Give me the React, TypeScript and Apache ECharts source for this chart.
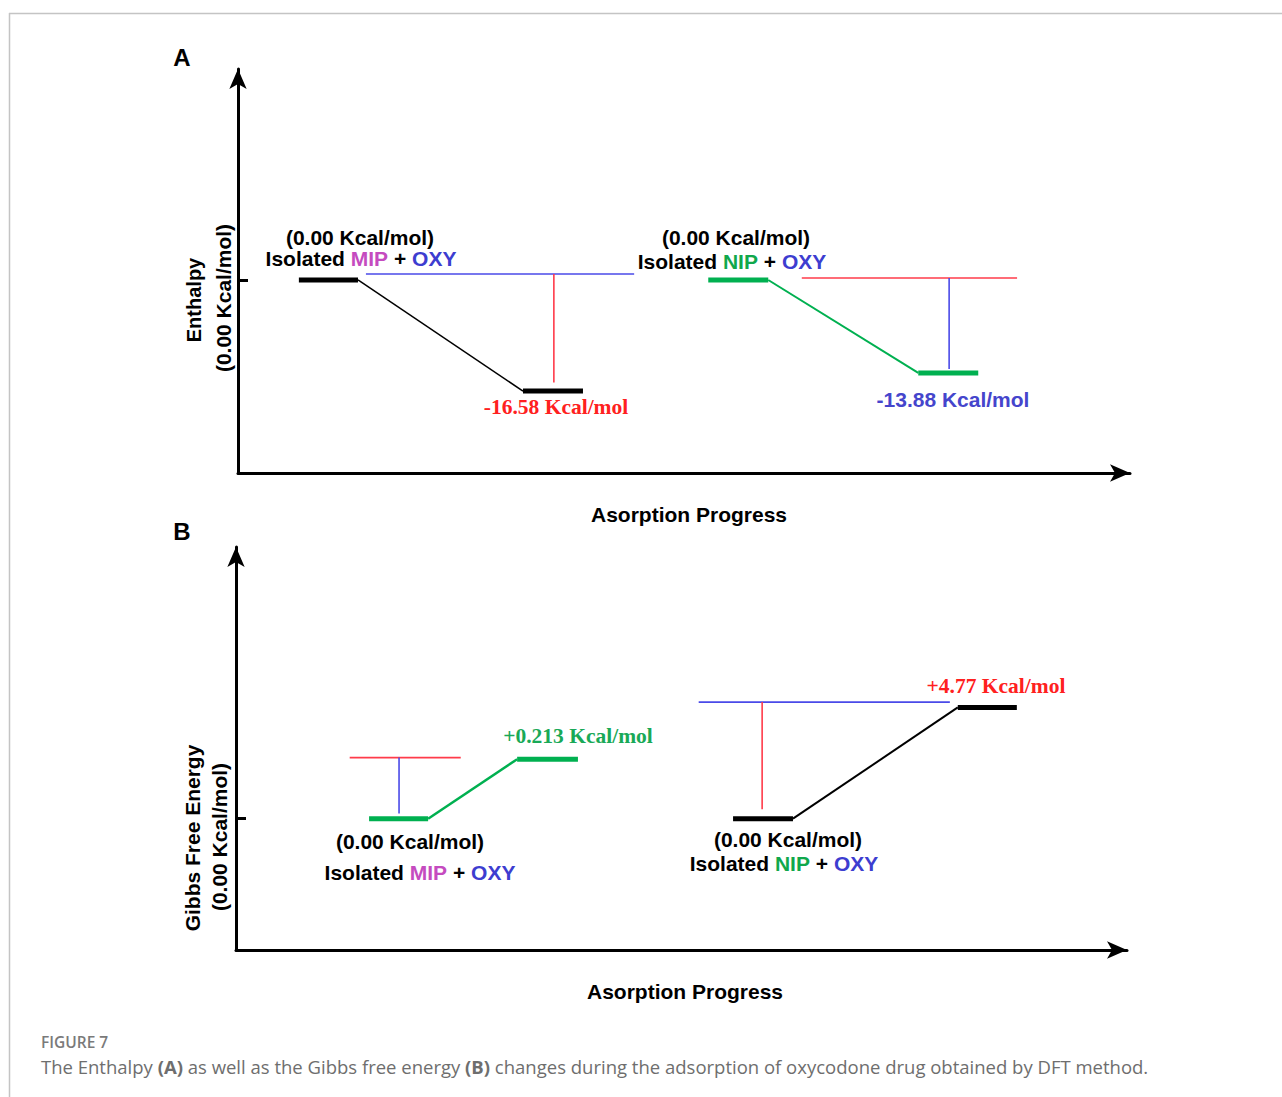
import React, { useEffect, useRef } from "react";
import * as echarts from "echarts";

// ---------------- Panel A : Enthalpy (kcal/mol) ----------------
const enthalpyMIP = [0, -16.58];
const enthalpyNIP = [0, -13.88];
// adsorption-progress positions: [reactant start, reactant end, product start, product end]
const progA_MIP = [6.9, 13.6, 32.3, 39.1];
const progA_NIP = [53.3, 60.1, 77.1, 83.9];
// guide lines of panel A: horizontal [start, end] + level, vertical x + bottom level
const guideA_MIP_x = [14.5, 44.9];
const guideA_MIP_level = 0.9;
const dropA_MIP = [35.8, -15.3];
const guideA_NIP_x = [63.9, 88.3];
const guideA_NIP_level = 0.3;
const dropA_NIP = [80.6, -13.3];

// ---------------- Panel B : Gibbs free energy ----------------
const gibbsMIP = [0, 0.213];
const gibbsNIP = [0, 4.77];
// levels as drawn in the (not-to-scale) diagram
const gibbsDrawnMIP = [0, 2.55];
const gibbsDrawnNIP = [0, 4.77];
const progB_MIP = [15.1, 21.8, 31.9, 38.8];
const progB_NIP = [56.4, 63.2, 81.9, 88.6];
const guideB_MIP_x = [12.9, 25.5];
const guideB_MIP_level = 2.62;
const dropB_MIP = [18.5, 0.22];
const guideB_NIP_x = [52.5, 81.0];
const guideB_NIP_level = 5.0;
const dropB_NIP = [59.7, 0.4];

const axisTitleX = "Asorption Progress";
const axisTitleA = ["Enthalpy", "(0.00 Kcal/mol)"];
const axisTitleB = ["Gibbs Free Energy", "(0.00 Kcal/mol)"];

const C_BLACK = "#000000";
const C_GREEN = "#00b050";
const C_RED = "#ff3b4a";
const C_BLUE = "#4a4ae8";
const C_MIP = "#c54bbf";
const C_OXY = "#3d3dd0";
const C_NIP = "#10a84c";
const T_RED = "#ff2020";
const T_GREEN = "#19a957";
const T_BLUE = "#4545cc";

const SANS = "'Liberation Sans', Arial, sans-serif";
const SERIF = "'Liberation Serif', 'Times New Roman', serif";
const CAP = "'Open Sans', sans-serif";

function seg(g: number, pts: number[][], color: string, width: number, z = 3) {
  return {
    type: "line",
    xAxisIndex: g,
    yAxisIndex: g,
    data: pts,
    showSymbol: false,
    symbol: "none",
    silent: true,
    z,
    lineStyle: { color, width, cap: "butt" },
  };
}

function system(
  g: number,
  prog: number[],
  levels: number[],
  color: string,
  connW: number,
  guideX: number[],
  guideLevel: number,
  guideColor: string,
  drop: number[],
  dropTop: number,
  dropColor: string
) {
  return [
    seg(g, [[guideX[0], guideLevel], [guideX[1], guideLevel]], guideColor, 1.6, 2),
    seg(g, [[drop[0], dropTop], [drop[0], drop[1]]], dropColor, 1.6, 2),
    seg(g, [[prog[1], levels[0]], [prog[2], levels[1]]], color, connW, 3),
    seg(g, [[prog[0], levels[0]], [prog[1], levels[0]]], color, 5, 4),
    seg(g, [[prog[2], levels[1]], [prog[3], levels[1]]], color, 5, 4),
  ];
}

function fmt(v: number) {
  return (v > 0 ? "+" : "") + v.toString() + " Kcal/mol";
}

function labelText(x: number, y: number, text: string, fill: string, family: string, size = 21, rich?: any) {
  return {
    type: "text",
    x,
    y,
    silent: true,
    style: {
      text,
      fill,
      fontSize: size,
      fontWeight: "bold",
      fontFamily: family,
      align: "center",
      verticalAlign: "middle",
      rich,
    },
  };
}

function isoRich(hostColor: string) {
  return {
    h: { fill: hostColor, fontSize: 21, fontWeight: "bold", fontFamily: SANS },
    o: { fill: C_OXY, fontSize: 21, fontWeight: "bold", fontFamily: SANS },
    k: { fill: C_BLACK, fontSize: 21, fontWeight: "bold", fontFamily: SANS },
  };
}

function axisPair(min: number, max: number) {
  return {
    x: {
      type: "value",
      min: 0,
      max: 101.1,
      axisLine: {
        show: true,
        onZero: false,
        symbol: ["none", "arrow"],
        symbolSize: [13, 20],
        lineStyle: { color: C_BLACK, width: 3 },
      },
      axisTick: { show: false },
      axisLabel: { show: false },
      splitLine: { show: false },
    },
    y: {
      type: "value",
      min,
      max,
      axisLine: {
        show: true,
        onZero: false,
        symbol: ["none", "arrow"],
        symbolSize: [13, 20],
        lineStyle: { color: C_BLACK, width: 3 },
      },
      axisTick: {
        show: true,
        inside: true,
        length: 10,
        customValues: [0],
        lineStyle: { color: C_BLACK, width: 3 },
      },
      axisLabel: { show: false },
      splitLine: { show: false },
    },
  };
}

export default function App() {
  const ref = useRef<HTMLDivElement>(null);
  useEffect(() => {
    if (!ref.current) return;
    const chart = echarts.init(ref.current, undefined, { renderer: "svg" });
    const A = axisPair(-28.81, 31.49);
    const B = axisPair(-5.63, 11.65);

    const series = [
      ...system(0, progA_MIP, enthalpyMIP, C_BLACK, 1.5, guideA_MIP_x, guideA_MIP_level, C_BLUE, dropA_MIP, guideA_MIP_level, C_RED),
      ...system(0, progA_NIP, enthalpyNIP, C_GREEN, 2, guideA_NIP_x, guideA_NIP_level, C_RED, dropA_NIP, guideA_NIP_level, C_BLUE),
      ...system(1, progB_MIP, gibbsDrawnMIP, C_GREEN, 2.5, guideB_MIP_x, guideB_MIP_level, C_RED, dropB_MIP, guideB_MIP_level, C_BLUE),
      ...system(1, progB_NIP, gibbsDrawnNIP, C_BLACK, 2, guideB_NIP_x, guideB_NIP_level, C_BLUE, dropB_NIP, guideB_NIP_level, C_RED),
    ];

    const graphic: any[] = [
      // frame
      { type: "line", silent: true, shape: { x1: 9.5, y1: 13, x2: 9.5, y2: 1097 }, style: { stroke: "#c4c4c4", lineWidth: 1.5 } },
      { type: "line", silent: true, shape: { x1: 9, y1: 13.5, x2: 1282, y2: 13.5 }, style: { stroke: "#c4c4c4", lineWidth: 1.5 } },
      // panel letters
      labelText(182, 57, "A", C_BLACK, SANS, 24),
      labelText(182, 531, "B", C_BLACK, SANS, 24),
      // y axis titles
      { ...labelText(194, 300, axisTitleA[0], C_BLACK, SANS, 20), rotation: Math.PI / 2 },
      { ...labelText(223, 298, axisTitleA[1], C_BLACK, SANS, 21), rotation: Math.PI / 2 },
      { ...labelText(192, 838, axisTitleB[0], C_BLACK, SANS, 21), rotation: Math.PI / 2 },
      { ...labelText(219, 837, axisTitleB[1], C_BLACK, SANS, 21), rotation: Math.PI / 2 },
      // x axis titles
      labelText(689, 514, axisTitleX, C_BLACK, SANS, 21),
      labelText(685, 991, axisTitleX, C_BLACK, SANS, 21),
      // panel A labels
      labelText(360, 237, "(0.00 Kcal/mol)", C_BLACK, SANS, 21),
      labelText(361, 258, "{k|Isolated }{h|MIP}{k| + }{o|OXY}", C_BLACK, SANS, 21, isoRich(C_MIP)),
      labelText(736, 237, "(0.00 Kcal/mol)", C_BLACK, SANS, 21),
      labelText(732, 261, "{k|Isolated }{h|NIP}{k| + }{o|OXY}", C_BLACK, SANS, 21, isoRich(C_NIP)),
      labelText(556, 407, fmt(enthalpyMIP[1]), T_RED, SERIF, 21.5),
      labelText(953, 399, fmt(enthalpyNIP[1]), T_BLUE, SANS, 21),
      // panel B labels
      labelText(578, 736, fmt(gibbsMIP[1]), T_GREEN, SERIF, 21.5),
      labelText(410, 841, "(0.00 Kcal/mol)", C_BLACK, SANS, 21),
      labelText(420, 872, "{k|Isolated }{h|MIP}{k| + }{o|OXY}", C_BLACK, SANS, 21, isoRich(C_MIP)),
      labelText(996, 686, fmt(gibbsNIP[1]), T_RED, SERIF, 21.5),
      labelText(788, 839, "(0.00 Kcal/mol)", C_BLACK, SANS, 21),
      labelText(784, 863, "{k|Isolated }{h|NIP}{k| + }{o|OXY}", C_BLACK, SANS, 21, isoRich(C_NIP)),
      // caption
      {
        type: "text",
        x: 41,
        y: 1042,
        silent: true,
        style: { text: "FIGURE 7", fill: "#7a7a7a", fontSize: 15.5, fontWeight: 600, fontFamily: CAP, verticalAlign: "middle" },
      },
      {
        type: "text",
        x: 41,
        y: 1066,
        silent: true,
        style: {
          text: "The Enthalpy {b|(A)} as well as the Gibbs free energy {b|(B)} changes during the adsorption of oxycodone drug obtained by DFT method.",
          fill: "#6e6e6e",
          fontSize: 18.5,
          fontFamily: CAP,
          verticalAlign: "middle",
          rich: {
            b: { fill: "#6e6e6e", fontSize: 18.5, fontWeight: "bold", fontFamily: CAP },
          },
        },
      },
    ];

    chart.setOption({
      animation: false,
      backgroundColor: "#ffffff",
      grid: [
        { left: 238, top: 69, width: 892, height: 404 },
        { left: 236, top: 547, width: 891, height: 403 },
      ],
      xAxis: [{ ...A.x, gridIndex: 0 }, { ...B.x, gridIndex: 1 }],
      yAxis: [{ ...A.y, gridIndex: 0 }, { ...B.y, gridIndex: 1 }],
      series,
      graphic,
    });
    return () => chart.dispose();
  }, []);
  return (
    <div
      ref={ref}
      style={{ position: "absolute", left: 0, top: 0, width: 1282, height: 1097, background: "#fff" }}
    />
  );
}
